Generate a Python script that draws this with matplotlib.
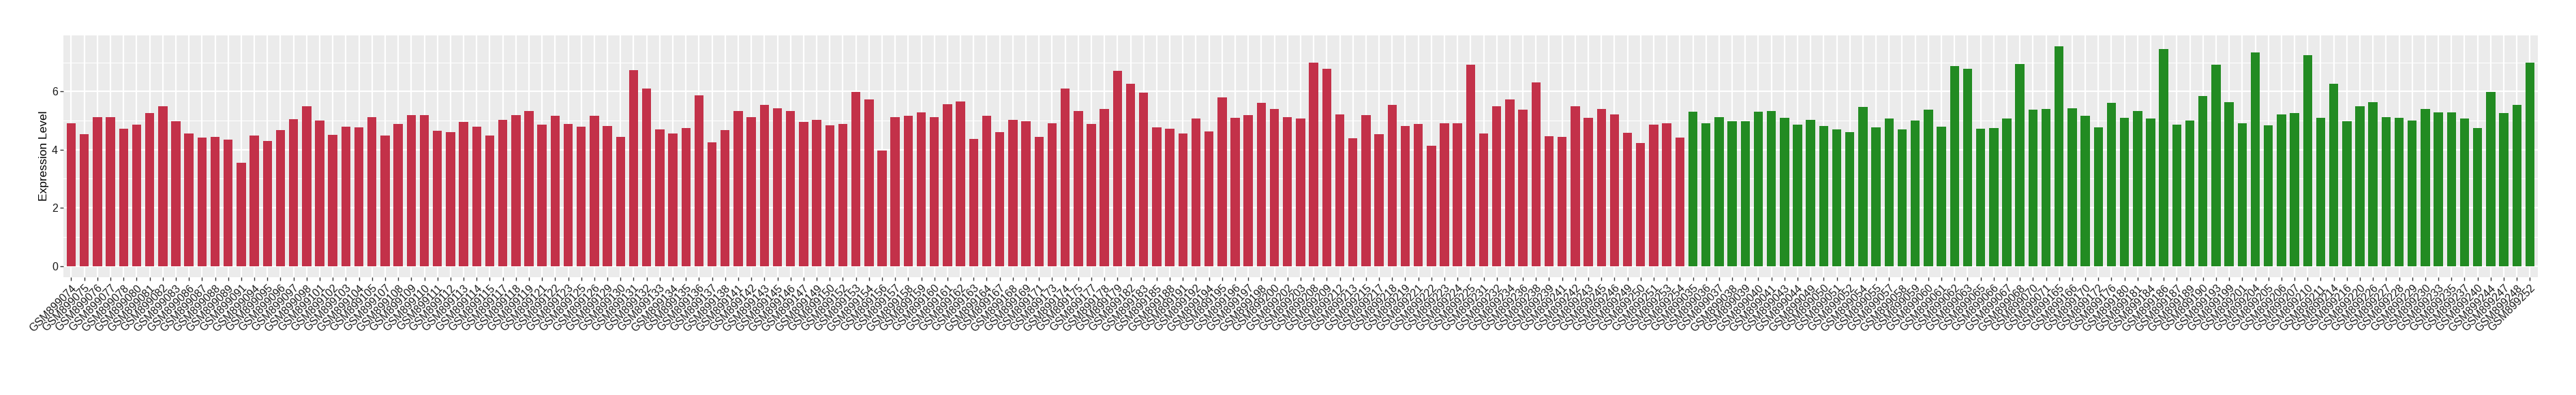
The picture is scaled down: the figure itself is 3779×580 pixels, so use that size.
import numpy as np
import matplotlib.pyplot as plt
from matplotlib.ticker import MultipleLocator

plt.rcParams['font.family'] = ['Liberation Sans', 'DejaVu Sans']

red_samples = [
    "GSM899074", "GSM899075", "GSM899076", "GSM899077", "GSM899078", "GSM899080",
    "GSM899081", "GSM899082", "GSM899083", "GSM899086", "GSM899087", "GSM899088",
    "GSM899089", "GSM899091", "GSM899094", "GSM899095", "GSM899096", "GSM899097",
    "GSM899098", "GSM899101", "GSM899102", "GSM899103", "GSM899104", "GSM899105",
    "GSM899107", "GSM899108", "GSM899109", "GSM899110", "GSM899111", "GSM899112",
    "GSM899113", "GSM899114", "GSM899115", "GSM899117", "GSM899118", "GSM899119",
    "GSM899121", "GSM899122", "GSM899123", "GSM899125", "GSM899126", "GSM899129",
    "GSM899130", "GSM899131", "GSM899132", "GSM899133", "GSM899134", "GSM899135",
    "GSM899136", "GSM899137", "GSM899138", "GSM899141", "GSM899142", "GSM899143",
    "GSM899145", "GSM899146", "GSM899147", "GSM899149", "GSM899150", "GSM899152",
    "GSM899153", "GSM899154", "GSM899156", "GSM899157", "GSM899158", "GSM899159",
    "GSM899160", "GSM899161", "GSM899162", "GSM899163", "GSM899164", "GSM899167",
    "GSM899168", "GSM899169", "GSM899171", "GSM899173", "GSM899174", "GSM899175",
    "GSM899177", "GSM899178", "GSM899179", "GSM899182", "GSM899183", "GSM899185",
    "GSM899188", "GSM899191", "GSM899192", "GSM899194", "GSM899195", "GSM899196",
    "GSM899197", "GSM899198", "GSM899200", "GSM899202", "GSM899203", "GSM899208",
    "GSM899209", "GSM899212", "GSM899213", "GSM899215", "GSM899217", "GSM899218",
    "GSM899219", "GSM899221", "GSM899222", "GSM899223", "GSM899224", "GSM899225",
    "GSM899231", "GSM899232", "GSM899234", "GSM899236", "GSM899238", "GSM899239",
    "GSM899241", "GSM899242", "GSM899243", "GSM899245", "GSM899246", "GSM899249",
    "GSM899250", "GSM899251", "GSM899253", "GSM899254",
]
red_values = [
    4.92, 4.53, 5.12, 5.12, 4.71, 4.86, 5.27, 5.49, 4.97, 4.56, 4.42, 4.44,
    4.34, 3.56, 4.49, 4.31, 4.67, 5.06, 5.49, 5.01, 4.50, 4.80, 4.76, 5.12,
    4.49, 4.88, 5.20, 5.20, 4.65, 4.61, 4.95, 4.80, 4.49, 5.03, 5.18, 5.33,
    4.86, 5.16, 4.88, 4.78, 5.16, 4.82, 4.44, 6.74, 6.11, 4.70, 4.56, 4.74,
    5.88, 4.25, 4.67, 5.33, 5.13, 5.54, 5.43, 5.34, 4.95, 5.03, 4.84, 4.88,
    5.98, 5.73, 3.98, 5.13, 5.16, 5.28, 5.13, 5.56, 5.66, 4.38, 5.16, 4.61,
    5.03, 4.97, 4.44, 4.91, 6.11, 5.33, 4.88, 5.39, 6.72, 6.26, 5.96, 4.76,
    4.71, 4.55, 5.07, 4.63, 5.81, 5.09, 5.20, 5.60, 5.39, 5.13, 5.07, 6.99,
    6.78, 5.22, 4.40, 5.20, 4.53, 5.54, 4.82, 4.88, 4.13, 4.91, 4.91, 6.93,
    4.56, 5.49, 5.73, 5.37, 6.32, 4.46, 4.44, 5.49, 5.09, 5.39, 5.22, 4.59,
    4.23, 4.86, 4.92, 4.42,
]

green_samples = [
    "GSM899035", "GSM899036", "GSM899037", "GSM899038", "GSM899039", "GSM899040",
    "GSM899041", "GSM899043", "GSM899044", "GSM899049", "GSM899050", "GSM899051",
    "GSM899052", "GSM899054", "GSM899055", "GSM899057", "GSM899058", "GSM899059",
    "GSM899060", "GSM899061", "GSM899062", "GSM899063", "GSM899065", "GSM899066",
    "GSM899067", "GSM899068", "GSM899070", "GSM899071", "GSM899165", "GSM899166",
    "GSM899170", "GSM899172", "GSM899176", "GSM899180", "GSM899181", "GSM899184",
    "GSM899186", "GSM899187", "GSM899189", "GSM899190", "GSM899193", "GSM899199",
    "GSM899201", "GSM899204", "GSM899205", "GSM899206", "GSM899207", "GSM899210",
    "GSM899211", "GSM899214", "GSM899216", "GSM899220", "GSM899226", "GSM899227",
    "GSM899228", "GSM899229", "GSM899230", "GSM899233", "GSM899235", "GSM899237",
    "GSM899240", "GSM899244", "GSM899247", "GSM899248", "GSM899252",
]
green_values = [
    5.31, 4.92, 5.13, 4.99, 4.99, 5.31, 5.33, 5.09, 4.86, 5.03, 4.82, 4.70,
    4.61, 5.48, 4.76, 5.07, 4.70, 5.01, 5.37, 4.78, 6.87, 6.78, 4.71, 4.74,
    5.07, 6.95, 5.37, 5.41, 7.56, 5.43, 5.16, 4.76, 5.60, 5.09, 5.33, 5.07,
    7.47, 4.86, 5.01, 5.84, 6.93, 5.64, 4.91, 7.35, 4.84, 5.22, 5.27, 7.25,
    5.09, 6.26, 4.99, 5.49, 5.63, 5.12, 5.09, 5.01, 5.39, 5.28, 5.28, 5.07,
    4.74, 5.98, 5.27, 5.54, 6.99,
]

red_color = "#C33149"
green_color = "#228B22"

samples = red_samples + green_samples
values = red_values + green_values
colors = [red_color] * len(red_samples) + [green_color] * len(green_samples)
x = np.arange(len(samples))

fig = plt.figure(figsize=(37.8, 5.8), dpi=100)
ax = fig.add_axes([0.0246, 0.2988, 0.9603, 0.6121])
ax.set_facecolor("#EBEBEB")

ax.bar(x, values, width=0.7, color=colors, zorder=3)

ymax = max(values)
ax.set_ylim(-0.05 * ymax, ymax * 1.05)
ax.set_xlim(-0.6, len(samples) - 0.4)

ax.yaxis.set_major_locator(MultipleLocator(2))
ax.yaxis.set_minor_locator(MultipleLocator(1))
ax.set_xticks(x)
ax.set_xticklabels(samples, rotation=45, ha="right", va="top",
                   rotation_mode="anchor", fontsize=11.5, color="#1a1a1a")
ax.tick_params(axis="y", labelsize=11.5, labelcolor="#1a1a1a", pad=2)
ax.tick_params(axis="x", pad=2.5)
ax.tick_params(axis="both", which="major", length=3.7, width=1, color="#333333")
ax.tick_params(axis="y", which="minor", length=0)

ax.grid(True, which="major", color="white", linewidth=1.6, zorder=0)
ax.grid(True, which="minor", axis="y", color="white", linewidth=0.8, zorder=0)
ax.set_axisbelow(True)

for s in ax.spines.values():
    s.set_visible(False)

ax.set_ylabel("Expression Level", fontsize=12.5, labelpad=3)

plt.savefig("out.png", dpi=100)
